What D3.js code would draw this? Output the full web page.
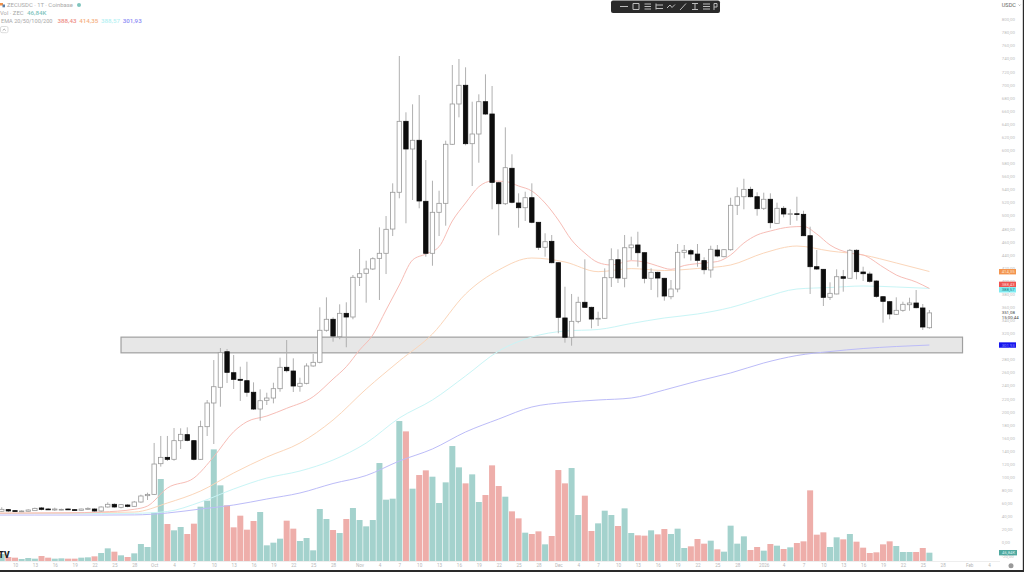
<!DOCTYPE html>
<html>
<head>
<meta charset="utf-8">
<script src="https://cdn.jsdelivr.net/npm/d3@7/dist/d3.min.js"></script>
<style>
html,body{margin:0;padding:0;background:#fff;overflow:hidden}
svg{display:block}
text{font-family:Roboto,"Liberation Sans",sans-serif}
</style>
</head>
<body>
<svg id="chart" width="1024" height="572"></svg>
<script>
// ZECUSDC daily candles, Sep 8 2025 to Jan 26 2026
const firstDay = new Date(Date.UTC(2025, 8, 8));
const opens = [47.7,50.2,48.7,47.2,47.7,48.7,52.8,51.2,49.7,50.2,
51.2,50.2,49.2,50.7,51.2,48.2,54.3,58.4,53.8,57.3,
55.3,61.9,71.6,73.6,120.5,130.2,127.2,155.7,164.9,155.7,
127.2,177.1,213.3,237.3,291.7,259.6,249.5,247.4,229.7,204.1,
217.4,220.9,235.2,267.9,262.2,238.8,243.4,269.9,275.5,324.5,
341.3,314.7,350.4,344.8,405.5,411.6,418.2,434.5,442.2,479.3,
535.5,644,601.7,615,521.7,442.2,504.9,518.6,608.9,670.5,
699.1,609.8,624.6,674,655.2,550.1,518,572.2,519.1,511.9,
527.2,489.6,451.4,460.5,427.8,343.3,313.8,338.2,367.3,359.6,
342.2,342.8,404.9,432.4,404,450.7,454.9,443.1,404,413.1,
404,375.8,387.6,443.7,446.2,441,431,416.7,447.2,437,
447.7,515.6,528.7,540,528.7,511,524.8,488,511,502.3,
502.7,501.8,469.1,421.7,417.7,374.9,380,406.4,404,446.8,
413.6,410.5,399.8,375.8,368.2,348.9,355,363.6,366.2,358.6,
328.4];
const highs = [53.8,51.2,49.7,49.2,50.7,53.3,54.3,52.8,53.3,51.7,
52.2,51.2,51.7,53.8,52.2,55.3,61.4,59.9,58.9,58.9,
63.5,73.1,76.2,152.2,162.9,162.9,175.1,174.6,176.1,156.7,
186.3,217.9,279,297.4,295.9,286.7,268.8,276.4,244.9,234.2,
229,244.3,282.6,309.6,281.6,252,274,288.2,359.6,374.9,
344.3,364.2,367.3,409,448.8,430.9,436.1,481.9,499.2,549.2,
743.9,657.8,670,684.2,584.8,553.2,537.9,614.4,730.1,739.3,
726.6,674,685.3,715.9,698,551.7,634.8,593.6,533.9,536.4,
549.2,490,472.8,470.2,428.5,391.1,380,375.8,433,360.5,
352.9,419.2,449.8,448.3,470.2,467.6,475.2,443.5,419.2,414.1,
404.5,401.4,456.4,454.9,448.8,456.4,436.1,453.8,454.9,448.3,
527.2,543.1,556.2,544,535.5,534.9,533.9,519.6,514.5,509.5,
528.7,507.3,482.9,447.2,418.2,397.8,417.7,416.7,448.8,448.3,
421.7,414.1,400.9,376.9,369.3,374.9,368.2,374.3,386.1,364.7,
355.5];
const lows = [46.7,46.7,47.2,46.5,47.2,48.2,49.2,49.7,48.2,49.2,
49.7,48.7,48.7,49.7,47.2,47.2,53.3,53.3,52.2,53.8,
54.8,60.9,65,72.6,116,124.6,125.1,143,154.7,125.6,
126.2,162.8,150.6,207.6,243.9,234.7,216.4,222.9,202.6,186.2,
210.2,212.8,230.6,260.2,230.1,230.6,241.9,268.8,274,322.3,
307,310.7,298.5,341.3,392.2,366.7,416.7,370.8,410.5,468.6,
526.3,488.1,523.7,511,437,423.2,468.6,484.4,607.8,650.1,
607.3,545.1,580.7,653.6,509.5,469.7,516,518.6,481.3,491.6,
488.1,447.2,437,426.9,319.9,305.5,300.9,335.2,359.3,327.5,
331,342.3,390.7,396.8,390.2,431.9,421.7,396.3,386.1,374.9,
369.7,371.9,382.6,434.5,430.9,421.7,410.1,404.9,436.1,436.1,
446.2,500.7,509.5,527.8,499.7,508.4,480.4,487,497.2,485.5,
492,468.6,380,416.7,361.6,370.8,379.5,383.5,403.4,402.4,
399.8,397.2,374.3,336.1,341.3,347.8,352.9,354.4,358.1,324.9,
326.9];
const closes = [50.7,48.2,47.7,48.2,49.7,52.2,50.7,50.2,51.2,50.7,
50.2,49.2,51.2,52.2,48.2,54.3,58.4,54.3,57.9,55.3,
61.9,71.1,73.6,120,130.2,127.2,155.7,165.4,156.2,127.2,
177.1,213.3,238.2,290.2,260.2,249.5,248,229.7,204.1,216.8,
220.9,235.2,267.9,262.7,239.3,243.4,269.9,275.5,324.5,341.3,
315.7,350.4,344.8,405.5,411,418.2,433.9,442.2,478.9,535.5,
644,601.7,615,522.2,442.2,504.9,518.6,608.9,670.5,699.1,
609.8,624.6,674,655.2,550.7,518,573.1,520.2,511.9,527.2,
489.6,451.4,459.9,427.8,344.3,313.8,338.2,367.3,359.6,341.7,
342.8,404.9,432.4,404.4,450.7,454.9,443.1,404,413.1,404.4,
376.9,387.6,443.7,446.8,441.1,431.5,417.1,448.3,438.1,447.7,
515.6,528.7,540,528.7,510.4,524.8,489,511,502.3,502.8,
501.8,469.1,421.7,418.2,374.9,381,406.4,404,446.8,414.1,
411,399.4,376.4,368.8,349.4,355,364.2,366.2,359,329.5,
351.08];
// Daily volume in thousands of ZEC
const volumes = [39.5,22.6,18.8,11.3,16.9,13.2,28.2,18.8,13.2,15,
13.2,13.2,18.8,20.7,26.3,45.1,71.4,52.6,32,22.6,
43.2,95.9,79,272.6,462.5,208.7,173,191.8,152.3,210.6,
306.4,340.3,629.8,426.8,314,189.9,255.7,176.7,225.6,276.4,
88.4,103.4,126,227.5,182.4,112.8,129.7,60.2,293.3,236.9,
174.8,157.9,236.9,298.9,231.2,195.5,231.2,552.7,345.9,351.6,
789.6,731.3,408,485,511.4,475.6,327.1,443.7,648.6,528.3,
438,488.8,332.8,372.2,539.6,423,362.8,280.1,240.6,159.8,
152.3,167.3,94,141,513.2,438,524.5,259.4,368.5,169.2,
212.4,283.9,259.4,197.4,297,157.9,144.8,142.9,173,150.4,
180.5,152.3,182.4,73.3,82.7,124.1,97.8,114.7,65.8,52.6,
199.3,97.8,139.1,62,79,58.3,95.9,86.5,67.7,77.1,
101.5,110.9,398.6,148.5,161.7,79,133.5,122.2,152.3,109,
75.2,45.1,48.9,94,110.9,84.6,50.8,50.8,50.8,73.3,
46.84];

// Moving averages, sampled at the listed bar numbers
const ema20Bars = [-1,5,10,15,20,22,25,29,32,35,37,40,43,47,50,52,54,56,58,60,62,64,66,68,70,72,74,76,78,80,82,84,86,88,90,92,95,97,99,101,103,106,108,110,112,114,116,119,121,123,125,128,130,133,135,138,140];
const ema20 = [44.6,45.1,45.4,46.6,50.8,55.8,83.3,98.6,131.2,169.4,184.7,193.4,205.2,222.9,250,268.8,294.3,317.3,355.5,393.7,431.9,441.1,452.3,491.6,519.1,544,552.7,552,545.1,537.4,519.1,493.1,462.5,442.6,428.1,424.3,430.9,428.9,422.8,417.7,423.5,427.4,429.6,439.6,457.9,470.2,476.3,482.4,483.2,471.7,454.9,442.6,439.6,421.2,409,398.3,388.43];
const slowBars = [-1,5,10,15,20,25,30,35,40,45,50,55,60,65,70,75,80,85,90,95,100,105,110,115,120,125,130,135,140];
const ema50 = [45.1,45.1,45.1,45.9,46.6,60.4,78.7,106.3,130.7,152.1,187.3,234.7,277.5,318.8,380,416.7,435,428.9,414.1,418.8,415.9,419,424.3,442.6,453.3,445.7,439.6,427.4,414.35];
const ema100 = [44.3,44.3,44.3,44.3,44.6,47.4,61.9,81.8,98.6,109.3,126.1,152.1,190.4,217.9,254.6,292.8,314.2,323.4,325.7,334.9,343.3,349.4,359.3,374.6,387.6,389.9,392.2,390.7,388.57];
const ema200 = [42,42,42,42,42.2,45.1,51.2,57.3,66.5,75.7,90.2,102.4,124.6,143,169,188.8,207.2,214.1,217.9,220.9,233.2,246.9,259.2,274.5,285.9,292,296.6,299.7,301.93];

// Support band and axis labels
const zonePrices = [290, 314];
const zoneDays = [new Date(Date.UTC(2025, 8, 26)), new Date(Date.UTC(2026, 0, 31))];
const priceTicks = d3.range(-20, 801, 20).filter(p => p !== 300);
const timeTicks = [
  [2025,8,10,"10"],[2025,8,13,"13"],[2025,8,16,"16"],[2025,8,19,"19"],[2025,8,22,"22"],[2025,8,25,"25"],[2025,8,28,"28"],
  [2025,9,1,"Oct"],[2025,9,4,"4"],[2025,9,7,"7"],[2025,9,10,"10"],[2025,9,13,"13"],[2025,9,16,"16"],[2025,9,19,"19"],[2025,9,22,"22"],[2025,9,25,"25"],[2025,9,28,"28"],
  [2025,10,1,"Nov"],[2025,10,4,"4"],[2025,10,7,"7"],[2025,10,10,"10"],[2025,10,13,"13"],[2025,10,16,"16"],[2025,10,19,"19"],[2025,10,22,"22"],[2025,10,25,"25"],[2025,10,28,"28"],
  [2025,11,1,"Dec"],[2025,11,4,"4"],[2025,11,7,"7"],[2025,11,10,"10"],[2025,11,13,"13"],[2025,11,16,"16"],[2025,11,19,"19"],[2025,11,22,"22"],[2025,11,25,"25"],[2025,11,28,"28"],
  [2026,0,1,"2026"],[2026,0,4,"4"],[2026,0,7,"7"],[2026,0,10,"10"],[2026,0,13,"13"],[2026,0,16,"16"],[2026,0,19,"19"],[2026,0,22,"22"],[2026,0,25,"25"],[2026,0,28,"28"],
  [2026,1,1,"Feb"],[2026,1,4,"4"]
];

const svg = d3.select("#chart");
const dayOf = i => d3.utcDay.offset(firstDay, i);
const commaFixed = v => d3.format(".2f")(v).replace(".", ",").replace("−", "-");
const bars = opens.map((o, i) => ({i, day: dayOf(i), o, h: highs[i], l: lows[i], c: closes[i], v: volumes[i], up: closes[i] >= o}));

const x = d3.scaleUtc().domain([firstDay, dayOf(140)]).range([1.75, 929.4]);
const y = d3.scaleLinear().domain([0, 800]).range([542.5, 19.3]);
const yVol = d3.scaleLinear().domain([0, 800]).range([561, 419.2]);

// Frame lines and time-axis rule
svg.append("rect").attr("width", 1024).attr("height", 572).attr("fill", "#fff");
svg.append("line").attr("x1", 0).attr("x2", 1000).attr("y1", 561.5).attr("y2", 561.5).attr("stroke", "#eeeeee");

// Price axis on the right
const yAxis = svg.append("g").attr("transform", "translate(1001.7,0)")
  .call(d3.axisRight(y).tickValues(priceTicks).tickSize(0).tickPadding(0).tickFormat(commaFixed));
yAxis.select(".domain").remove();
yAxis.selectAll("text").attr("fill", "#bdbdbd").attr("font-size", 4.4);

// Time axis along the bottom
const timeDates = timeTicks.map(t => new Date(Date.UTC(t[0], t[1], t[2])));
const timeLabels = new Map(timeDates.map((d, k) => [+d, timeTicks[k][3]]));
const xAxis = svg.append("g").attr("transform", "translate(0,562)")
  .call(d3.axisBottom(x).tickValues(timeDates).tickSize(0).tickPadding(2).tickFormat(d => timeLabels.get(+d)));
xAxis.select(".domain").remove();
xAxis.selectAll("text").attr("fill", "#b8b8b8").attr("font-size", 4.6);

// Volume columns sit under everything else
const volW = 6;
svg.append("g").selectAll("rect").data(bars).join("rect")
  .attr("x", d => x(d.day) - volW / 2)
  .attr("width", volW)
  .attr("y", d => yVol(d.v))
  .attr("height", d => yVol(0) - yVol(d.v))
  .attr("fill", d => d.up ? "#a4d2cd" : "#eeaeaa");

// Support band
svg.append("rect")
  .attr("x", x(zoneDays[0])).attr("width", x(zoneDays[1]) - x(zoneDays[0]))
  .attr("y", y(zonePrices[1])).attr("height", y(zonePrices[0]) - y(zonePrices[1]))
  .attr("fill", "#e7e7e7").attr("stroke", "#a0a0a0").attr("stroke-width", 1.2);

// EMA lines
const emaLine = d3.line().x(p => x(dayOf(p[0]))).y(p => y(p[1])).curve(d3.curveMonotoneX);
const emaSeries = [
  {bars: ema200, at: slowBars, color: "#bcbcf8"},
  {bars: ema100, at: slowBars, color: "#c9f5f6"},
  {bars: ema50, at: slowBars, color: "#fbd6ba"},
  {bars: ema20, at: ema20Bars, color: "#f7bdb6"}
];
svg.append("g").attr("fill", "none").attr("stroke-width", 1)
  .selectAll("path").data(emaSeries).join("path")
  .attr("d", s => emaLine(s.at.map((b, k) => [b, s.bars[k]])))
  .attr("stroke", s => s.color);

// Candles
const candles = svg.append("g").selectAll("g").data(bars).join("g");
candles.append("line")
  .attr("x1", d => x(d.day)).attr("x2", d => x(d.day))
  .attr("y1", d => y(d.h)).attr("y2", d => y(d.l))
  .attr("stroke", "#b0b0b0").attr("stroke-width", 1);
const bodyW = 4.4;
candles.append("rect")
  .attr("x", d => x(d.day) - bodyW / 2)
  .attr("width", bodyW)
  .attr("y", d => y(Math.max(d.o, d.c)))
  .attr("height", d => Math.max(0.8, Math.abs(y(d.o) - y(d.c))))
  .attr("fill", d => d.up ? "#ffffff" : "#0d0d0d")
  .attr("stroke", d => d.up ? "#999999" : "#0d0d0d")
  .attr("stroke-width", 0.8);

// Legend
const legend = svg.append("g").attr("font-size", 5.9);
legend.append("rect").attr("x", 0).attr("y", 3).attr("width", 3).attr("height", 2.5).attr("fill", "#f0914a");
legend.append("rect").attr("x", 2.5).attr("y", 4.5).attr("width", 2.5).attr("height", 2.8).attr("fill", "#5b7fa6");
legend.append("text").attr("x", 7).attr("y", 7).attr("fill", "#a9a9a9").text("ZECUSDC · 1T · Coinbase");
legend.append("circle").attr("cx", 79).attr("cy", 5).attr("r", 2).attr("fill", "#7fc4bd");
legend.append("text").attr("x", 0).attr("y", 14.9).attr("fill", "#a9a9a9").text("Vol · ZEC");
legend.append("text").attr("x", 27).attr("y", 14.9).attr("fill", "#7fc4bd").attr("font-weight", 500).attr("font-size", 6.2).text("46,84K");
legend.append("text").attr("x", 1).attr("y", 23).attr("fill", "#a9a9a9").attr("font-size", 5.6).text("EMA 20/50/100/200");
const emaLabels = [
  {x: 57.5, text: commaFixed(388.43), color: "#ee8f88"},
  {x: 79.3, text: commaFixed(414.35), color: "#f5b083"},
  {x: 101, text: commaFixed(388.57), color: "#b5f1f3"},
  {x: 122.7, text: commaFixed(301.93), color: "#8d8df5"}
];
legend.selectAll(".ema-value").data(emaLabels).join("text").attr("class", "ema-value")
  .attr("x", d => d.x).attr("y", 23).attr("fill", d => d.color).attr("font-weight", 500).attr("font-size", 6.2).text(d => d.text);
svg.append("rect").attr("x", 0.5).attr("y", 26.5).attr("width", 7.5).attr("height", 6.2).attr("rx", 1.5)
  .attr("fill", "#fff").attr("stroke", "#dddddd");
svg.append("path").attr("d", "M2.7 30.5 L4.2 29.1 L5.7 30.5").attr("fill", "none").attr("stroke", "#888").attr("stroke-width", 0.7);

// Drawing toolbar
const tools = svg.append("g");
tools.append("rect").attr("x", 611).attr("y", 0.5).attr("width", 109).attr("height", 12.5).attr("rx", 2).attr("fill", "#2a2a2a");
const toolShapes = [
  "M620 6.5H628", "M633 3.5H639V9.5H633Z", "M644.5 4H651M644.5 6.5H651M644.5 9H651",
  "M656 3.5V9.5M656 5H663M656 8.5H663", "M667 8L670 5L672 7.5L675 4.5", "M680 10L686 3.5",
  "M692 3.5H698M695 3.5V9.5M692 9.5H698", "M703 4H710M703 6.5H710M703 9H710", "M714 3.5H717V7H714ZM714 7V10"
];
tools.selectAll("path").data(toolShapes).join("path").attr("d", d => d)
  .attr("fill", "none").attr("stroke", "#bcbcbc").attr("stroke-width", 1);

// Currency selector
svg.append("text").attr("x", 1001.7).attr("y", 7.3).attr("font-size", 5.6).attr("fill", "#666").text("USDC");
svg.append("path").attr("d", "M1018.6 4.6 L1019.6 5.6 L1020.6 4.6").attr("fill", "none").attr("stroke", "#888").attr("stroke-width", 0.6);

// Last-value tags on the price axis
const tagHeight = 5.4;
const priceTags = [
  {value: 414.35, text: commaFixed(414.35), fill: "#f3954f", ink: "#fde3cf", shift: 0.2},
  {value: 388.43, text: commaFixed(388.43), fill: "#ef5350", ink: "#fbd4d3", shift: -4.1},
  {value: 388.57, text: commaFixed(388.57), fill: "#7eeaf0", ink: "#2a7f84", shift: 1.4},
  {value: 301.93, text: commaFixed(301.93), fill: "#1616ee", ink: "#8d8df7", shift: 0}
];
const tagGroups = svg.append("g").selectAll("g").data(priceTags).join("g")
  .attr("transform", d => `translate(999,${y(d.value) + d.shift})`);
tagGroups.append("rect").attr("x", 0).attr("y", -tagHeight / 2).attr("width", 17).attr("height", tagHeight).attr("fill", d => d.fill);
tagGroups.append("text").attr("x", 2.7).attr("y", 1.5).attr("font-size", 4.3).attr("fill", d => d.ink).text(d => d.text);

svg.append("rect").attr("x", 999).attr("y", yVol(46.84) - tagHeight / 2).attr("width", 18).attr("height", tagHeight).attr("fill", "#4fa89f");
svg.append("text").attr("x", 1002).attr("y", yVol(46.84) + 1.5).attr("font-size", 4.3).attr("fill", "#d4eeeb").text("46,84K");

svg.append("text").attr("x", 1001.7).attr("y", y(351.08) + 1.5).attr("font-size", 4.4).attr("fill", "#444").text(commaFixed(351.08));
svg.append("text").attr("x", 1001.7).attr("y", y(351.08) + 6.3).attr("font-size", 4.4).attr("fill", "#444").text("15:00:44");

// Settings button in the axis corner
svg.append("circle").attr("cx", 1011).attr("cy", 565.7).attr("r", 2.5).attr("fill", "#999");

// Publisher mark and window edges
svg.append("text").attr("x", -1.5).attr("y", 558).attr("font-size", 8.5).attr("font-weight", 900).attr("fill", "#222").text("TV");
svg.append("rect").attr("x", 1022.8).attr("y", 0).attr("width", 1.2).attr("height", 572).attr("fill", "#2a2a2a");
svg.append("rect").attr("x", 0).attr("y", 570).attr("width", 1024).attr("height", 2).attr("fill", "#2a2a2a");
</script>
</body>
</html>
